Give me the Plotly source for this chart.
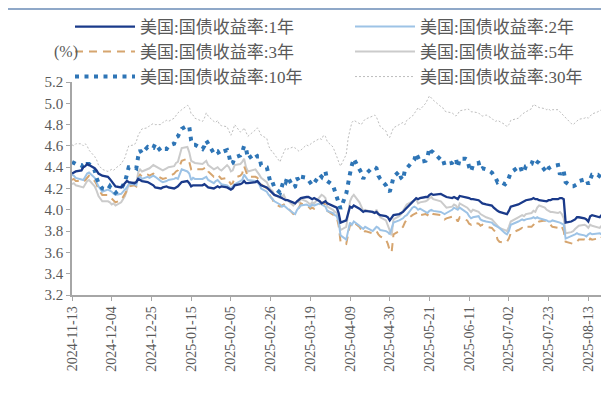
import pandas as pd
import plotly.graph_objects as go

# ---------------- data ----------------
holidays = ["2024-11-28", "2024-12-25", "2025-01-01", "2025-01-09", "2025-01-20",
            "2025-02-17", "2025-04-18", "2025-05-26", "2025-06-19", "2025-07-04"]
dates = [d for d in pd.bdate_range("2024-11-13", "2025-08-22")
         if d.strftime("%Y-%m-%d") not in holidays]

tick_labels = ["2024-11-13", "2024-12-04", "2024-12-25", "2025-01-15", "2025-02-05",
               "2025-02-26", "2025-03-19", "2025-04-09", "2025-04-30", "2025-05-21",
               "2025-06-11", "2025-07-02", "2025-07-23", "2025-08-13"]

y1 = [4.34, 4.35, 4.36, 4.37, 4.40, 4.41, 4.43, 4.42, 4.39, 4.37, 4.34, 4.32,
      4.31, 4.29, 4.27, 4.24, 4.22, 4.21, 4.23, 4.24, 4.27, 4.26, 4.25, 4.26, 4.29, 4.28, 4.27,
      4.26, 4.25, 4.23, 4.21, 4.20, 4.21, 4.22, 4.21, 4.20, 4.21, 4.22, 4.26,
      4.27, 4.25, 4.22, 4.23, 4.23, 4.23, 4.24, 4.22, 4.21,
      4.20, 4.21, 4.22, 4.21, 4.22, 4.21, 4.20, 4.19, 4.20, 4.23, 4.24, 4.25, 4.27, 4.25, 4.25,
      4.26, 4.27, 4.25, 4.23, 4.21, 4.19, 4.17, 4.15, 4.14,
      4.12, 4.11, 4.10, 4.09, 4.09, 4.07, 4.06, 4.08, 4.10, 4.11, 4.12, 4.12, 4.11, 4.10, 4.11,
      4.08, 4.06, 4.07, 4.08, 4.06, 4.04, 4.03, 4.02, 3.97, 3.88,
      3.90, 3.96, 4.03, 4.02, 4.04, 4.01, 3.99, 3.98, 3.99,
      3.98, 3.97, 3.98, 3.96, 3.95, 3.94, 3.93, 3.90, 3.92, 3.95,
      3.96, 3.97, 3.98, 4.00, 4.02, 4.08, 4.10, 4.11, 4.10, 4.11,
      4.12, 4.12, 4.14, 4.15, 4.14, 4.15, 4.14, 4.13, 4.12,
      4.11, 4.12, 4.11, 4.10, 4.13, 4.12, 4.12, 4.11, 4.10, 4.10, 4.09, 4.07, 4.06, 4.05,
      4.04, 4.02, 4.00, 3.99, 3.98, 3.97, 3.96, 3.99, 4.03,
      4.05, 4.06, 4.07, 4.08, 4.09, 4.10, 4.11, 4.10, 4.10, 4.09,
      4.08, 4.08, 4.09, 4.09, 4.10, 4.10, 4.11, 4.11, 4.10, 3.88,
      3.89, 3.90, 3.91, 3.93, 3.93, 3.92, 3.91, 3.89, 3.94, 3.95,
      3.94, 3.93, 3.95, 3.96, 3.89]

y2 = [4.33, 4.32, 4.30, 4.29, 4.28, 4.31, 4.34, 4.35, 4.30, 4.26, 4.22, 4.17,
      4.19, 4.18, 4.17, 4.15, 4.14, 4.15, 4.17, 4.18, 4.21, 4.24, 4.24, 4.23, 4.30, 4.31, 4.29,
      4.31, 4.30, 4.32, 4.31, 4.27, 4.26, 4.27, 4.28, 4.29, 4.30, 4.29, 4.38,
      4.36, 4.34, 4.28, 4.30, 4.29, 4.29, 4.30, 4.31, 4.28,
      4.25, 4.27, 4.28, 4.26, 4.24, 4.23, 4.21, 4.20, 4.22, 4.24, 4.27, 4.28, 4.33, 4.30, 4.28,
      4.27, 4.25, 4.24, 4.20, 4.17, 4.14, 4.12, 4.11, 4.08,
      4.05, 4.03, 4.04, 4.02, 4.01, 3.97, 3.96, 4.00, 4.02, 4.04, 4.05, 4.04, 4.03, 4.05, 4.04,
      4.06, 4.05, 4.04, 4.03, 3.99, 3.97, 3.95, 3.94, 3.89, 3.76,
      3.72, 3.79, 3.88, 3.86, 3.89, 3.85, 3.83, 3.82, 3.84,
      3.80, 3.82, 3.84, 3.83, 3.81, 3.80, 3.79, 3.77, 3.82, 3.88,
      3.90, 3.91, 3.92, 3.94, 3.95, 4.02, 4.03, 4.02, 4.00, 4.01,
      3.98, 3.97, 3.99, 4.00, 3.99, 3.98, 3.97, 3.96, 3.97,
      4.00, 4.02, 4.01, 4.00, 4.02, 3.98, 3.97, 3.94, 3.92, 3.93, 3.94, 3.91, 3.90, 3.89,
      3.88, 3.86, 3.85, 3.84, 3.83, 3.78, 3.77, 3.80, 3.86,
      3.89, 3.90, 3.91, 3.90, 3.91, 3.92, 3.93, 3.92, 3.93, 3.92,
      3.91, 3.90, 3.89, 3.89, 3.90, 3.89, 3.88, 3.87, 3.86, 3.73,
      3.75, 3.76, 3.77, 3.78, 3.77, 3.76, 3.75, 3.77, 3.78, 3.77,
      3.78, 3.78, 3.77, 3.78, 3.74]

y3 = [4.28, 4.29, 4.27, 4.27, 4.26, 4.28, 4.31, 4.32, 4.27, 4.24, 4.19, 4.14,
      4.14, 4.12, 4.10, 4.09, 4.07, 4.09, 4.12, 4.14, 4.18, 4.22, 4.23, 4.22, 4.30, 4.33, 4.31,
      4.33, 4.32, 4.34, 4.33, 4.30, 4.29, 4.30, 4.31, 4.34, 4.36, 4.37, 4.46,
      4.48, 4.45, 4.38, 4.39, 4.38, 4.38, 4.39, 4.40, 4.36,
      4.31, 4.32, 4.33, 4.31, 4.29, 4.30, 4.27, 4.24, 4.25, 4.30, 4.32, 4.34, 4.41, 4.36, 4.31,
      4.31, 4.30, 4.28, 4.24, 4.20, 4.15, 4.12, 4.10, 4.06,
      4.03, 4.04, 4.05, 4.03, 4.02, 3.96, 3.97, 4.00, 4.02, 4.06, 4.04, 4.03, 4.01, 4.02, 4.01,
      4.05, 4.07, 4.06, 4.05, 3.99, 3.95, 3.94, 3.93, 3.85, 3.70,
      3.68, 3.76, 3.86, 3.85, 3.88, 3.84, 3.81, 3.78, 3.80,
      3.78, 3.79, 3.80, 3.77, 3.75, 3.72, 3.68, 3.62, 3.60, 3.77,
      3.80, 3.82, 3.84, 3.88, 3.91, 3.95, 3.96, 3.97, 3.94, 3.95,
      3.96, 3.95, 3.98, 3.97, 3.96, 3.95, 3.93, 3.91, 3.92,
      3.93, 3.94, 3.92, 3.89, 3.93, 3.91, 3.90, 3.87, 3.86, 3.88, 3.87, 3.85, 3.86, 3.84,
      3.83, 3.81, 3.79, 3.72, 3.70, 3.69, 3.70, 3.73, 3.78,
      3.81, 3.82, 3.83, 3.82, 3.84, 3.84, 3.86, 3.85, 3.88, 3.89,
      3.90, 3.89, 3.88, 3.86, 3.84, 3.83, 3.85, 3.84, 3.80, 3.70,
      3.69, 3.68, 3.69, 3.70, 3.72, 3.72, 3.71, 3.70, 3.73, 3.72,
      3.73, 3.72, 3.74, 3.73, 3.68]

y5 = [4.24, 4.25, 4.23, 4.22, 4.21, 4.24, 4.27, 4.28, 4.22, 4.18, 4.13, 4.08,
      4.08, 4.07, 4.05, 4.06, 4.04, 4.07, 4.10, 4.13, 4.18, 4.24, 4.26, 4.25, 4.35, 4.38, 4.36,
      4.38, 4.39, 4.42, 4.41, 4.38, 4.37, 4.39, 4.40, 4.41, 4.44, 4.45, 4.58,
      4.59, 4.54, 4.46, 4.45, 4.44, 4.43, 4.45, 4.46, 4.42,
      4.38, 4.39, 4.40, 4.38, 4.37, 4.42, 4.40, 4.36, 4.37, 4.42, 4.43, 4.45, 4.48, 4.40, 4.36,
      4.38, 4.36, 4.33, 4.30, 4.26, 4.22, 4.19, 4.18, 4.14,
      4.11, 4.12, 4.14, 4.10, 4.09, 4.04, 4.06, 4.08, 4.07, 4.10, 4.08, 4.06, 4.05, 4.07, 4.06,
      4.12, 4.14, 4.13, 4.11, 4.03, 4.00, 3.98, 3.97, 3.88, 3.81,
      3.84, 3.95, 4.08, 4.12, 4.14, 4.07, 4.02, 3.99, 4.00,
      3.98, 3.97, 4.00, 3.96, 3.93, 3.90, 3.85, 3.80, 3.76, 3.91,
      3.94, 3.96, 3.99, 4.02, 4.05, 4.08, 4.09, 4.10, 4.06, 4.07,
      4.08, 4.09, 4.11, 4.12, 4.10, 4.08, 4.06, 4.04, 4.02,
      4.03, 4.05, 4.04, 4.01, 4.06, 4.03, 4.02, 4.00, 3.98, 4.00, 3.98, 3.96, 3.95, 3.93,
      3.91, 3.89, 3.86, 3.84, 3.83, 3.81, 3.80, 3.84, 3.89,
      3.93, 3.94, 3.95, 3.94, 3.96, 3.97, 3.99, 3.98, 4.02, 4.04,
      4.02, 4.00, 3.99, 3.98, 3.98, 3.97, 3.98, 3.96, 3.92, 3.78,
      3.79, 3.80, 3.82, 3.84, 3.85, 3.86, 3.85, 3.83, 3.86, 3.85,
      3.84, 3.83, 3.85, 3.86, 3.80]

y10 = [4.45, 4.44, 4.43, 4.42, 4.39, 4.41, 4.43, 4.43, 4.37, 4.30, 4.25, 4.20,
       4.19, 4.22, 4.19, 4.18, 4.16, 4.20, 4.23, 4.26, 4.33, 4.40, 4.40, 4.39, 4.50, 4.56, 4.53,
       4.59, 4.58, 4.58, 4.62, 4.55, 4.57, 4.57, 4.60, 4.62, 4.68, 4.69, 4.76,
       4.79, 4.78, 4.65, 4.61, 4.61, 4.57, 4.60, 4.65, 4.62,
       4.53, 4.55, 4.55, 4.52, 4.54, 4.56, 4.51, 4.43, 4.44, 4.49, 4.51, 4.54, 4.60, 4.58, 4.48,
       4.53, 4.50, 4.50, 4.42, 4.40, 4.30, 4.25, 4.26, 4.21,
       4.16, 4.22, 4.28, 4.26, 4.31, 4.21, 4.22, 4.30, 4.27, 4.31, 4.30, 4.28, 4.26, 4.23, 4.25,
       4.33, 4.31, 4.35, 4.36, 4.27, 4.23, 4.17, 4.13, 4.06, 4.01,
       4.15, 4.26, 4.34, 4.42, 4.48, 4.38, 4.35, 4.29, 4.33,
       4.40, 4.40, 4.39, 4.32, 4.29, 4.23, 4.19, 4.17, 4.23, 4.31,
       4.36, 4.30, 4.28, 4.37, 4.39, 4.45, 4.47, 4.53, 4.49, 4.45,
       4.46, 4.50, 4.58, 4.55, 4.54, 4.47, 4.48, 4.42, 4.43,
       4.44, 4.46, 4.48, 4.40, 4.48, 4.48, 4.47, 4.40, 4.36, 4.42, 4.44, 4.38, 4.39, 4.38,
       4.35, 4.32, 4.30, 4.26, 4.27, 4.24, 4.26, 4.30, 4.35,
       4.40, 4.41, 4.35, 4.36, 4.41, 4.43, 4.48, 4.46, 4.45, 4.44,
       4.38, 4.35, 4.39, 4.40, 4.41, 4.42, 4.33, 4.37, 4.36, 4.26,
       4.22, 4.22, 4.23, 4.24, 4.27, 4.28, 4.29, 4.24, 4.30, 4.33,
       4.33, 4.32, 4.30, 4.32, 4.28]

y30 = [4.61, 4.60, 4.62, 4.62, 4.60, 4.62, 4.60, 4.56, 4.50, 4.47, 4.42, 4.38,
       4.36, 4.37, 4.38, 4.37, 4.39, 4.43, 4.46, 4.49, 4.55, 4.60, 4.61, 4.64, 4.70, 4.73, 4.76,
       4.77, 4.79, 4.81, 4.80, 4.80, 4.82, 4.84, 4.83, 4.86, 4.89, 4.91, 4.94,
       4.98, 4.97, 4.90, 4.89, 4.86, 4.83, 4.86, 4.91, 4.88,
       4.83, 4.82, 4.84, 4.80, 4.79, 4.78, 4.74, 4.70, 4.74, 4.80, 4.73, 4.74, 4.77, 4.73, 4.69,
       4.75, 4.77, 4.74, 4.70, 4.67, 4.60, 4.56, 4.55, 4.52,
       4.45, 4.50, 4.55, 4.58, 4.57, 4.59, 4.58, 4.56, 4.55, 4.56, 4.61, 4.60, 4.62, 4.63, 4.64,
       4.67, 4.66, 4.70, 4.69, 4.64, 4.59, 4.55, 4.50, 4.45, 4.41,
       4.52, 4.67, 4.75, 4.82, 4.84, 4.81, 4.80, 4.83, 4.85,
       4.88, 4.89, 4.87, 4.83, 4.78, 4.74, 4.69, 4.68, 4.73, 4.77,
       4.80, 4.81, 4.82, 4.80, 4.84, 4.88, 4.90, 4.93, 4.96, 4.94,
       5.00, 5.03, 5.07, 5.05, 5.03, 4.97, 4.96, 4.93, 4.92,
       4.91, 4.89, 4.88, 4.90, 4.93, 4.94, 4.95, 4.94, 4.92, 4.92, 4.91, 4.89, 4.88, 4.89,
       4.86, 4.84, 4.83, 4.84, 4.83, 4.80, 4.78, 4.80, 4.84,
       4.86, 4.88, 4.90, 4.91, 4.92, 4.95, 4.99, 4.98, 4.97, 4.96,
       4.95, 4.94, 4.95, 4.93, 4.94, 4.94, 4.92, 4.90, 4.88, 4.86,
       4.81, 4.80, 4.82, 4.84, 4.85, 4.86, 4.87, 4.86, 4.88, 4.90,
       4.92, 4.93, 4.94, 4.93, 4.92]

for s in (y1, y2, y3, y5, y10, y30):
    assert len(s) == len(dates), (len(s), len(dates))

names = ["美国:国债收益率:1年", "美国:国债收益率:2年", "美国:国债收益率:3年",
         "美国:国债收益率:5年", "美国:国债收益率:10年", "美国:国债收益率:30年"]

# ---------------- styling ----------------
W, H = 609, 396
L, R, T, B = 64, 6, 74, 109
pw, ph = W - L - R, H - T - B

# legend slot of each series: (legend id, left px, row centre px)
styles = {
    names[0]: dict(color="#1A3A8A", width=2.3, dash="solid", legend="legend", lx=62, ly=19),
    names[1]: dict(color="#9DC3E6", width=2.0, dash="solid", legend="legend2", lx=342, ly=19),
    names[2]: dict(color="#D6A56F", width=2.0, dash="8px,6px", legend="legend3", lx=62, ly=44),
    names[3]: dict(color="#CBCBCB", width=2.0, dash="solid", legend="legend4", lx=342, ly=44),
    names[4]: dict(color="#2E75B6", width=4.0, dash="4px,5.5px", legend="legend5", lx=62, ly=69),
    names[5]: dict(color="#BDBDBD", width=1.0, dash="2px,2px", legend="legend6", lx=342, ly=69),
}
values = {names[0]: y1, names[1]: y2, names[2]: y3, names[3]: y5, names[4]: y10, names[5]: y30}
draw_order = [names[5], names[3], names[2], names[1], names[4], names[0]]

fig = go.Figure()
for nm in draw_order:
    st = styles[nm]
    fig.add_trace(go.Scatter(
        x=dates, y=values[nm], name=nm, mode="lines",
        line=dict(color=st["color"], width=st["width"], dash=st["dash"]),
        legend=st["legend"], hoverinfo="skip"))

def px_x(px):
    return (px - L) / pw

def px_y(py):
    return (H - B - py) / ph

text_color = "#595959"
axis_color = "#A6A6A6"
leg_font = dict(family="Liberation Serif, Noto Sans CJK SC", size=17, color=text_color)

legends = {}
for nm in names:
    st = styles[nm]
    legends[st["legend"]] = dict(
        orientation="h", itemwidth=60, font=leg_font, bgcolor="rgba(0,0,0,0)",
        xref="container", yref="container", xanchor="left", yanchor="middle",
        x=st["lx"] / W, y=1 - st["ly"] / H, itemclick=False)

fig.update_layout(
    width=W, height=H,
    margin=dict(l=L, r=R, t=T, b=B, autoexpand=False),
    paper_bgcolor="white", plot_bgcolor="white",
    showlegend=True,
    **legends,
    xaxis=dict(
        type="date",
        range=["2024-11-13", "2025-08-25"],
        tickvals=tick_labels, ticktext=tick_labels, tickangle=-90,
        ticks="outside", ticklen=4, tickcolor=axis_color,
        showline=True, linecolor=axis_color, linewidth=1.5,
        showgrid=False, zeroline=False, automargin=False,
        tickfont=dict(family="Liberation Serif", size=14, color=text_color),
    ),
    yaxis=dict(
        range=[3.2, 5.2], dtick=0.2, tick0=3.2, tickformat=".1f",
        ticks="outside", ticklen=4, tickcolor=axis_color,
        showline=True, linecolor=axis_color, linewidth=1.5,
        showgrid=False, zeroline=False, automargin=False,
        tickfont=dict(family="Liberation Serif", size=15, color=text_color),
    ),
    annotations=[dict(text="(%)", xref="paper", yref="paper", x=px_x(72), y=px_y(44),
                      xanchor="right", yanchor="middle", showarrow=False,
                      font=dict(family="Liberation Serif", size=16, color=text_color))],
    shapes=[dict(type="line", xref="paper", yref="paper", x0=px_x(0), x1=px_x(W),
                 y0=px_y(1), y1=px_y(1), line=dict(color="#8FA8C8", width=2))],
)

fig.write_html("out.html")
